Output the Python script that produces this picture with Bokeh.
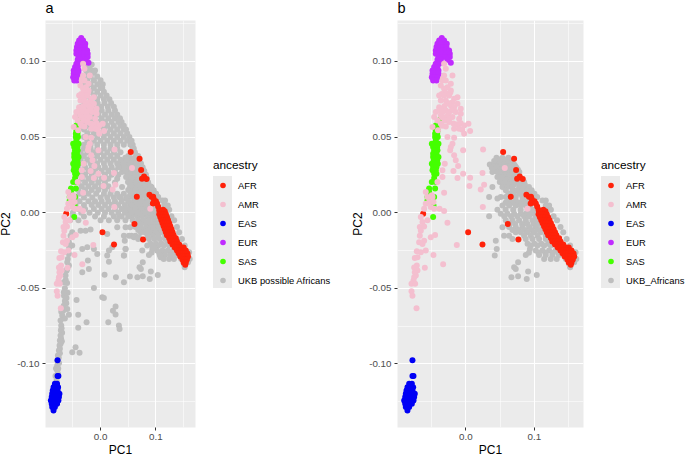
from bokeh.plotting import figure
from bokeh.models import FixedTicker, NumeralTickFormatter, Legend, LegendItem, Div
from bokeh.embed import file_html
from bokeh.resources import INLINE

# each entry: (PC2 value, [PC1 values of the points read at that height])
afr_rows = [
 (.0401,[.0544]),(.0357,[.0704]),(.0282,[.0733]),(.024,[.0786]),(.0225,[.0748]),(.0222,[.083]),
 (.0119,[.0883]),(.0105,[.0655,.092,.095]),(.009,[.096]),(.0075,[.100]),(.006,[.0945,.102]),
 (.004,[.104]),(.002,[.106,.113]),(.001,[.1065,.110,.116]),(-.001,[.106,.110,.114,.118]),
 (-.003,[.108,.112,.116,.120]),(-.005,[.110,.114,.118,.122]),(-.007,[.112,.116,.120,.124]),
 (-.0075,[.0612]),(-.0007,[-.0621]),
 (-.009,[.114,.118,.122,.126]),(-.011,[.116,.120,.124,.128]),(-.013,[.0034,.118,.122,.126,.130]),
 (-.015,[.120,.124,.128,.132]),(-.017,[.124,.128,.132,.136]),(-.0178,[.0767]),(-.019,[.126,.130,.134,.138]),
 (-.0211,[.0243]),(-.021,[.130,.134,.138,.142]),(-.023,[.134,.138,.142,.146,.150]),
 (-.025,[.138,.142,.146,.150,.154]),(-.027,[.141,.145,.149,.153,.157]),
 (-.029,[.144,.148,.152,.156,.158]),(-.031,[.148,.152,.156]),(-.033,[.150,.154]),(-.0345,[.153]),
]
amr_rows = [
 (.0985,[-.0316]),(.0952,[-.0291]),(.0907,[-.0316,-.0194]),(.0885,[-.0335]),(.0874,[-.034,-.0291]),(.0852,[-.0218]),
 (.0841,[-.0364]),(.083,[-.0267]),(.0819,[-.0316]),(.0808,[-.0218]),(.0795,[-.03,-.0225]),(.0785,[-.035]),(.0775,[-.0388,-.0316,-.0243]),
 (.0764,[-.0121]),(.0753,[-.017]),(.0742,[-.0364,-.0291]),(.0731,[-.0194]),(.0725,[-.0265]),(.072,[-.0243,-.0121]),(.0705,[-.031,-.0215]),
 (.0698,[-.0388,-.017]),(.0687,[-.0316,-.0073]),(.0675,[-.039,-.029,-.02]),(.0665,[-.0437,-.034,-.0243,-.0146]),(.0654,[-.0073]),
 (.0655,[-.0255]),(.0643,[-.0364]),(.063,[-.034]),(.0632,[-.0461,-.0291,-.0194]),(.062,[-.024]),(.0621,[-.0097]),(.061,[-.0413,-.0305]),(.0599,[-.0243]),
 (.0592,[-.0073]),(.059,[-.0365,-.018]),(.0588,[.0039]),(.0585,[-.0125]),(.0577,[-.0024]),(.0575,[-.0345]),(.057,[-.0291]),(.0566,[-.0485]),
 (.0555,[-.017,-.0097]),(.0548,[-.0049]),(.0545,[-.0405]),(.054,[.0063]),(.0522,[-.0024]),(.05,[-.0267]),
 (.0496,[-.017]),(.0456,[-.0194]),(.0434,[-.0218]),(.0418,[.0252]),(.0412,[-.0228,-.0039]),
 (.0379,[-.017]),(.0346,[-.0146]),(.0324,[-.0306]),(.0308,[-.0112]),(.0295,[.0568]),(.028,[-.034]),
 (.0275,[-.018]),(.0262,[.0243]),(.0258,[-.0039]),(.0236,[-.034]),(.0231,[.0063]),(.0229,[-.0121]),
 (.0203,[-.0413]),(.0185,[.0267]),(.0176,[.0053]),(.0154,[.0218]),(.0137,[-.0583]),(.0132,[-.0316]),
 (.0115,[-.0495]),(.0104,[-.0485,-.0558]),(.007,[-.0534,-.047]),(.0059,[-.0583]),(.0037,[.0248,-.051]),
 (.0026,[-.0607,-.0461,-.0383,.0898]),(.0011,[-.0316]),(-.0029,[-.0655]),(-.0051,[-.0558]),
 (-.0062,[-.0631]),(-.0066,[-.0267]),(-.0092,[-.0607]),(-.0095,[-.067]),(-.0119,[-.0655]),
 (-.0148,[-.0447]),(-.0152,[-.067]),(-.0163,[-.051]),(-.0185,[-.0607]),(-.0196,[-.068]),(-.0207,[-.0631]),
 (-.0214,[-.0131]),(-.0251,[-.0583]),(-.0256,[-.0714]),(-.0262,[-.0655]),(-.028,[-.0471]),
 (-.0295,[-.0704]),(-.03,[-.0743]),(-.0341,[-.033]),(-.035,[-.0714]),(-.0362,[-.0752]),(-.0364,[-.0597]),
 (-.0383,[-.0704]),(-.0394,[-.0743]),(-.0416,[-.0728]),(-.0427,[-.0752]),(-.0449,[-.0762]),
 (-.0471,[-.0791,-.0738]),(-.052,[-.0791]),(-.0549,[-.0777]),(-.0632,[-.0718]),
]
eas_rows = [
 (-.0976,[-.0777]),(-.1081,[-.0777,-.0762]),(-.1132,[-.0825,-.0786]),(-.1154,[-.085,-.0801,-.0767]),
 (-.1176,[-.0864,-.0816,-.0777]),(-.1198,[-.0874,-.0825,-.0777,-.0743]),
 (-.122,[-.0883,-.0835,-.0786,-.0752]),(-.1242,[-.0898,-.085,-.0801,-.0762]),
 (-.1264,[-.0883,-.0835,-.0786]),(-.1286,[-.0874,-.0825]),(-.1308,[-.085]),
]
eur_rows = [
 (.1156,[-.035]),(.1139,[-.0388,-.0316]),(.1117,[-.0413,-.0364,-.0306,-.0277]),
 (.1095,[-.0427,-.0379,-.033,-.0282]),(.1073,[-.0437,-.0388,-.034,-.0291,-.0243]),
 (.1051,[-.0437,-.0388,-.034,-.0291,-.0233]),(.1029,[-.0398,-.034,-.0291,-.0233]),
 (.1011,[-.0413,-.0364,-.0267]),(.0991,[-.0218]),(.0985,[-.0437,-.0388]),(.0963,[-.0461,-.0413]),
 (.0941,[-.0485,-.0437,-.0398]),(.0919,[-.0485,-.0437,-.0398]),(.0896,[-.0495,-.0447,-.0408]),
 (.0874,[-.0476,-.0427]),
]
sas_rows = [
 (.0615,[-.0374]),(.0599,[-.0398]),(.0577,[-.0437,-.0413]),(.0544,[-.0437,-.0408]),(.0522,[-.0447,-.0417]),
 (.05,[-.0447,-.0408]),(.0478,[-.0437]),(.0456,[-.0495,-.0447,-.0398]),(.0434,[-.0476,-.0417]),
 (.0412,[-.0461,-.0413]),(.039,[-.0476,-.0427]),(.0368,[-.0476,-.0437,-.0398]),(.0346,[-.0466,-.0417]),
 (.0324,[-.0495,-.0447,-.0408]),(.0302,[-.0476,-.0427]),(.028,[-.0485,-.0437]),(.0258,[-.0461,-.0427]),
 (.0229,[-.0461]),(.0203,[-.0495,-.0437]),(.0159,[-.0534,-.0447]),(.0137,[-.0534]),(.0104,[-.0558,-.0461]),
 (.0081,[-.0558]),(.0048,[-.047]),(-.0029,[-.0476]),
]
gray_b_rows = [
 (.0363,[.0447,.0534,.0621]),(.0352,[.05,.06]),(.0341,[.0413,.0485,.0573,.0655]),(.033,[.045,.052,.062,.067]),
 (.0319,[.035,.0413,.0485,.0558,.0631,.0704]),(.0308,[.039,.046,.052,.06,.067,.072]),
 (.0297,[.0379,.0447,.0524,.0607,.068,.0738]),(.0283,[.042,.05,.057,.064,.071,.076]),
 (.0269,[.0388,.0461,.0534,.0607,.068,.078]),(.0252,[.05,.058,.067,.075]),
 (.0236,[.0461,.0534,.0631,.0704]),(.022,[.052,.06,.068,.076,.082]),(.0203,[.0495,.0573,.0655,.0728,.0801,.085]),
 (.0186,[.054,.062,.07,.078,.086]),(.017,[.0388,.0534,.0607,.068,.0777,.085,.092]),
 (.0148,[.0583,.068,.0752,.0825,.0898,.096]),(.0125,[.062,.07,.078,.086,.094,.1]),
 (.0104,[.034,.051,.0583,.0728,.0825,.098,.104]),(.0093,[.0461]),
 (.0081,[.0631,.0728,.0825,.0898,.1117,.1165]),(.0065,[.058,.068,.077,.086,.094,.1]),
 (.0048,[.0534,.0631,.0728,.0801,.0874,.094,.1165,.1214]),
 (.002,[.0461,.058,.069,.08,.09,.098,.118,.124]),(-.0007,[.051,.0607,.0704,.0801,.0874,.0947,.1]),
 (-.0024,[.034,.056,.066,.075,.085,.092,.102,.128]),(-.0051,[.0583,.068,.0777,.0874,.0971,.1019,.133]),
 (-.0075,[.064,.072,.082,.09,.099,.106]),(-.0095,[.0631,.0728,.0825,.0922,.1019,.1117,.138]),
 (-.0097,[.0534]),(-.0115,[.068,.077,.086,.096,.106]),(-.013,[.0728,.0801,.0898,.0995,.1092,.142]),
 (-.0152,[.0558,.0631,.0849,.0947,.1044,.1165]),
 (-.0174,[.068,.0874,.0971,.1068,.1165,.147]),(-.0185,[.0437]),(-.0205,[.09,.1,.11,.12,.128]),
 (-.0218,[.0947,.1044,.1141,.1238,.152]),
 (-.024,[.0451,.0935]),(-.0251,[.1019,.1117,.1214,.1311]),(-.0262,[.16]),(-.0265,[.092,.106,.116,.127,.135]),
 (-.028,[.0874,.1068,.1165,.1262,.1359]),
 (-.0284,[.0422]),(-.0306,[.1141,.1238,.1325,.1456,.161]),(-.0328,[.0762,.158]),(-.0339,[.1505]),
 (-.0361,[.0704,.152]),(-.0372,[.0728]),(-.039,[.0908]),(-.0412,[.1034]),(-.0421,[.0762]),(-.0427,[.0665]),
 (-.0438,[.0888]),
]
gray_a_extra_rows = [
 (.098,[-.024,-.016]),(.0965,[-.02]),(.094,[-.026,-.016,-.01]),(.0925,[-.024,-.012]),(.09,[-.03,-.018,-.006]),
 (.0875,[-.024,-.012,0]),(.085,[-.03,-.018,-.006,.004]),(.0825,[-.024,-.012,0,.003]),
 (.08,[-.03,-.018,-.006,.006]),(.0775,[-.024,-.012,0,.011]),(.075,[-.03,-.018,-.006,.006,.016]),
 (.0725,[-.029,-.017,-.005,.007,.019]),(.07,[-.035,-.023,-.011,.001,.013,.024]),
 (.0675,[-.034,-.022,-.01,.002,.014,.026]),(.065,[-.04,-.028,-.016,-.004,.008,.02,.03]),
 (.0625,[-.034,-.022,-.01,.002,.014,.026,.035]),(.06,[-.04,-.028,-.016,-.004,.008,.02,.032,.038]),
 (.0575,[-.034,-.024,-.012,0,.012,.024,.036,.042]),(.055,[-.03,-.018,-.006,.006,.018,.03,.042,.046]),
 (.0525,[-.024,-.012,0,.012,.024,.036,.048]),(.05,[-.03,-.018,-.006,.006,.018,.03,.042,.052]),
 (.0475,[-.024,-.012,0,.012,.024,.036,.048,.056]),(.045,[-.03,-.018,-.006,.006,.018,.03,.042,.054,.058]),
 (.0425,[-.03,-.018,-.006,.006,.018,.03,.058,.06]),(.04,[-.036,-.024,-.012,0,.012,.024,.036,.062]),
 (.0375,[-.03,-.018,-.006,.006,.018,.03,.05,.065,.068]),
 (.035,[-.036,-.024,-.012,0,.012,.024,.036,.048,.06,.07]),
 (.0325,[-.038,-.03,-.018,-.006,.006,.018,.03,.042,.054,.064,.073]),
 (.03,[-.04,-.028,-.016,-.004,.008,.02,.032,.044,.056,.068,.076]),
 (.0275,[-.034,-.022,-.01,.002,.014,.026,.044,.056,.068,.079]),
 (.025,[-.04,-.028,-.016,-.004,.008,.02,.032,.05,.062,.074,.082]),
 (.0225,[-.034,-.022,-.01,.002,.014,.03,.056,.07,.084]),
 (.02,[-.04,-.028,-.016,-.004,.008,.026,.052,.064,.076,.086]),
 (.0175,[-.034,-.022,-.01,.002,.014,.054,.068,.08,.09]),
 (.015,[-.04,-.028,-.016,-.004,.008,.02,.05,.062,.074,.086,.094]),
 (.0125,[-.038,-.022,-.008,.006,.018,.03,.042,.054,.066,.078,.09,.1]),
 (.01,[-.045,-.03,-.015,0,.012,.024,.036,.048,.06,.072,.084,.098,.104]),
 (.0075,[-.038,-.022,-.01,.002,.014,.026,.038,.05,.062,.074,.086,.096]),
 (.005,[-.045,-.03,-.016,-.004,.008,.02,.032,.044,.056,.068,.08,.092,.115]),
 (.0025,[-.04,-.028,-.012,.002,.014,.026,.038,.05,.062,.074,.086]),
 (0,[-.05,-.035,-.02,-.005,.008,.02,.032,.044,.056,.068,.08,.09]),
 (-.0025,[-.05,-.03,-.01,.006,.024,.038,.05]),
 (-.005,[-.055,-.04,0,.015,.03,.045]),
 (-.0097,[.0301,.0452]),(-.0112,[-.0181]),(-.0119,[-.0361,-.0271]),(-.013,[-.0512]),(-.0141,[.012]),
 (-.0152,[-.0542,.0422,.0512]),(-.0163,[.0602,.0693]),(-.0196,[-.0572]),(-.0218,[-.0512,.0843]),
 (-.0229,[-.0565,-.0241,.0211,.0964]),(-.024,[-.0331,-.012,.0452]),(-.0251,[.0151,.0753]),(-.0273,[-.0572,-.006]),
 (-.0284,[.012,.0422]),(-.0295,[.1084]),(-.0306,[-.0592]),(-.0317,[-.0229]),(-.0324,[.0151]),(-.0328,[-.0602]),(-.035,[-.0572]),
 (-.0372,[-.0211,-.0602]),(-.0385,[-.0615]),(-.0394,[-.0331]),(-.041,[.0072]),(-.0416,[-.0633]),(-.0423,[.053]),(-.0427,[.0277]),
 (-.0445,[-.063]),(-.0465,[-.0605]),(-.046,[-.0663,.0422]),(-.0498,[-.012]),(-.05,[-.0645]),(-.0526,[-.0663]),(-.053,[-.0595]),(-.055,[-.066]),(-.0559,[-.0633]),(-.056,[.003]),(-.0564,[.006]),
 (-.0565,[-.0615]),(-.0577,[-.0434]),(-.0585,[-.0645]),(-.0592,[-.0633]),(-.06,[-.062]),(-.0615,[-.0665]),(-.0621,[.0271]),(-.0637,[-.0602]),(-.0645,[-.0668]),(-.0648,[.0223]),(-.0655,[-.0695,-.071]),(-.0674,[.0271]),
 (-.0676,[-.0572,-.0404]),(-.0681,[-.0693]),(-.07,[-.0645]),(-.0714,[-.0723]),(-.0725,[-.0253,.0139]),(-.0747,[-.0711,.0331]),
 (-.0762,[-.0404]),(-.0765,[-.0705]),(-.0769,[.0343]),(-.078,[-.0717]),(-.0795,[-.0695]),(-.0813,[-.0723]),(-.083,[-.0715]),(-.085,[-.07]),(-.0846,[-.0735]),(-.0865,[-.072]),(-.0879,[-.0741]),
 (-.089,[-.0452]),(-.09,[-.0735]),(-.0912,[-.0753]),(-.0923,[-.0512]),(-.0927,[-.038]),(-.093,[-.0735]),(-.0945,[-.0771]),(-.096,[-.0755]),(-.0978,[-.0783]),(-.0995,[-.075]),
 (-.1011,[-.0783]),(-.103,[-.0765,-.0805]),(-.1044,[-.0783]),(-.1065,[-.077]),(-.1077,[-.0795]),(-.108,[-.0815]),(-.111,[-.0795]),
]
x_major = [0.0, 0.1]
x_minor = [-0.05, 0.05, 0.15]
y_major = [-0.10, -0.05, 0.0, 0.05, 0.10]
y_minor = [-0.125, -0.075, -0.025, 0.025, 0.075, 0.125]
ancestry = ["AFR", "AMR", "EAS", "EUR", "SAS"]
colors = {"AFR": "#FF220A", "AMR": "#F4BFCF", "EAS": "#0000F5", "EUR": "#C02BFF", "SAS": "#44FF00"}
GRAY = "#BEBEBE"
FONT = "Liberation Sans"


def flat(rows):
    xs, ys = [], []
    for y, row_x in rows:
        for x in row_x:
            xs.append(x)
            ys.append(y)
    return xs, ys


def panel(title, gray_rows, gray_label, page_frame_left, frame_w):
    p = figure(frame_width=frame_w, frame_height=407,
               x_range=(-0.0995, 0.1715), y_range=(-0.1421, 0.1271),
               output_backend="svg", toolbar_location=None, tools="",
               min_border_left=51, min_border_right=0, min_border_top=0, min_border_bottom=0,
               background_fill_color="#EBEBEB", border_fill_alpha=0, outline_line_color=None,
               x_axis_label="PC1", y_axis_label="PC2",
               styles={"position": "absolute", "left": f"{page_frame_left - 51}px", "top": "-8px"})
    p.title.text = title
    p.title.text_font = FONT
    p.title.text_font_size = "14.5px"
    p.title.text_font_style = "normal"
    p.title.text_color = "black"
    p.title.offset = 0
    p.title.standoff = 10
    for ax, maj, mnr, fmt in ((p.xaxis[0], x_major, x_minor, "0.0"), (p.yaxis[0], y_major, y_minor, "0.00")):
        ax.ticker = FixedTicker(ticks=maj, minor_ticks=mnr)
        ax.formatter = NumeralTickFormatter(format=fmt)
        ax.axis_line_color = None
        ax.major_tick_line_color = "#333333"
        ax.major_tick_in = 0
        ax.major_tick_out = 3
        ax.minor_tick_line_color = None
        ax.major_label_text_font = FONT
        ax.major_label_text_font_size = "9.8px"
        ax.major_label_text_color = "#4D4D4D"
        ax.major_label_standoff = 2
        ax.axis_label_text_font = FONT
        ax.axis_label_text_font_size = "12px"
        ax.axis_label_text_font_style = "normal"
        ax.axis_label_text_color = "black"
    p.xaxis[0].axis_label_standoff = 0
    p.yaxis[0].axis_label_standoff = 1
    for g in (p.xgrid[0], p.ygrid[0]):
        g.grid_line_color = "white"
        g.grid_line_width = 1.05
        g.minor_grid_line_color = "white"
        g.minor_grid_line_width = 0.55

    renderers = {}
    gx, gy = flat(gray_rows)
    renderers["gray"] = p.scatter(gx, gy, size=6, color=GRAY, line_width=0)
    data = {"AFR": afr_rows, "EAS": eas_rows, "EUR": eur_rows, "SAS": sas_rows, "AMR": amr_rows}
    for name in ["AFR", "EAS", "EUR", "SAS", "AMR"]:
        xs, ys = flat(data[name])
        renderers[name] = p.scatter(xs, ys, size=6, color=colors[name], line_width=0)

    items = [LegendItem(label=a, renderers=[renderers[a]]) for a in ancestry]
    items.append(LegendItem(label=gray_label, renderers=[renderers["gray"]]))
    legend = Legend(items=items, location=(18, 140), title="ancestry",
                    orientation="vertical", padding=0, margin=0, spacing=5,
                    glyph_width=19, glyph_height=14, label_height=14, label_standoff=6,
                    label_text_font=FONT, label_text_font_size="9.4px", label_text_color="black",
                    title_text_font=FONT, title_text_font_size="11.8px", title_text_font_style="normal",
                    title_text_color="black", title_standoff=6,
                    border_line_color=None, background_fill_alpha=0, click_policy="none")
    p.add_layout(legend, "right")
    return p


def key_block(left):
    return Div(text="", width=19, height=112, margin=0,
               styles={"position": "absolute", "left": f"{left}px", "top": "176px", "background": "#EBEBEB"})


pa = panel("a", gray_b_rows + gray_a_extra_rows, "UKB possible Africans", 45, 150)
pb = panel("b", gray_b_rows, "UKB_Africans", 397, 186)

open("out.html", "w").write(file_html([key_block(213), key_block(601), pa, pb], INLINE))
